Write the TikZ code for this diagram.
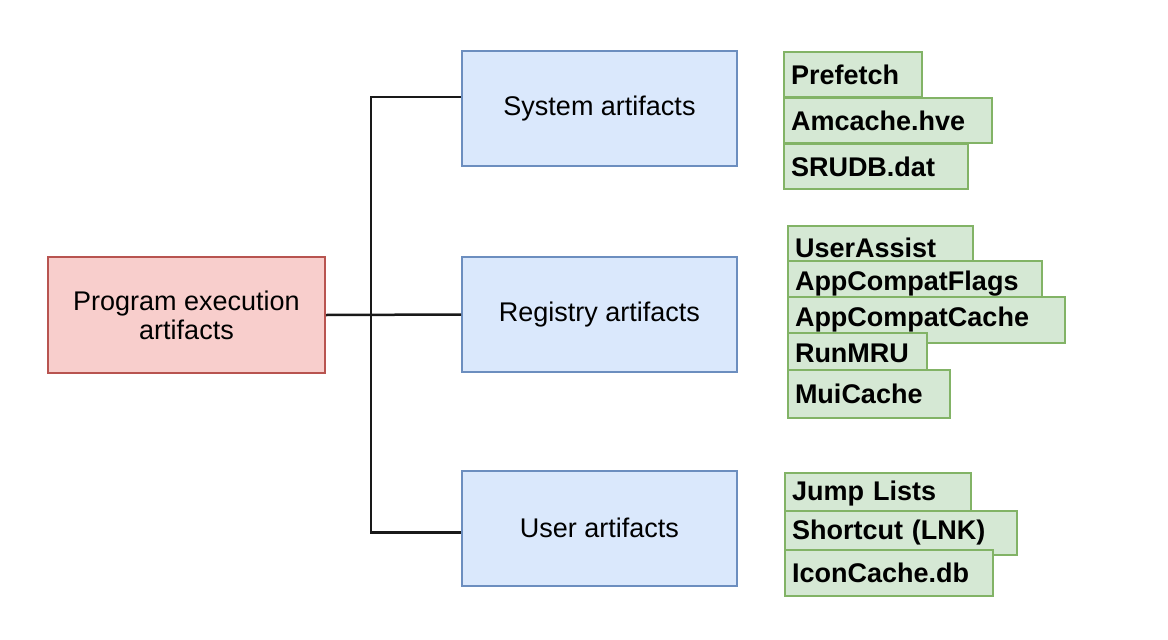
\documentclass[tikz,border=0pt]{standalone}
\usepackage{fontspec}
\setmainfont{Liberation Sans}
\usetikzlibrary{calc}
\definecolor{redfill}{HTML}{F8CECC}
\definecolor{redline}{HTML}{B85450}
\definecolor{bluefill}{HTML}{DAE8FC}
\definecolor{blueline}{HTML}{6C8EBF}
\definecolor{greenfill}{HTML}{D5E8D4}
\definecolor{greenline}{HTML}{82B366}
\begin{document}
\begin{tikzpicture}[x=1pt,y=-1pt,
  mainbox/.style={draw=redline,fill=redfill,line width=2pt,minimum width=277pt,minimum height=116pt,
    align=center,font=\fontsize{27}{32}\selectfont,inner sep=0pt},
  catbox/.style={draw=blueline,fill=bluefill,line width=2pt,minimum width=275pt,minimum height=115pt,
    align=center,font=\fontsize{27}{32}\selectfont,inner sep=0pt},
  gbox/.style={draw=greenline,fill=greenfill,line width=2pt,anchor=north west,inner xsep=7pt,inner ysep=0pt,
    align=left,font=\fontsize{27}{32}\selectfont\bfseries},
  conn/.style={draw=black!90,line width=2.5pt}]
\useasboundingbox (0,0) rectangle (1168,640);
% main boxes
\node[mainbox] (prog) at (186.5,315) {Program execution\\[-3pt]artifacts};
\node[catbox] (sys) at (599.5,108.5) {System artifacts};
\node[catbox] (reg) at (599.5,314.5) {Registry artifacts};
\node[catbox] (usr) at (599.5,528) {User artifacts};
% connectors
\coordinate (bus) at (371,315);
\draw[conn] (prog.east) -- (reg.west);
\draw[conn] ($(sys.north west)!0.4!(sys.south west)$) -| (bus) |- ($(usr.north west)!0.54!(usr.south west)$);
% system items
\node[gbox,text width=124pt,minimum height=45pt] (pf) at (783,51) {Prefetch};
\node[gbox,text width=194pt,minimum height=45pt] (am) at (783,97) {Amcache.hve};
\node[gbox,text width=170pt,minimum height=45pt] (sr) at (783,143) {SRUDB.dat};
% registry items
\node[gbox,text width=171pt,minimum height=44pt] (ua) at (787,225) {UserAssist};
\node[gbox,text width=240pt,minimum height=46pt] (af) at (787,260) {AppCompatFlags};
\node[gbox,text width=263pt,minimum height=46pt] (ac) at (787,296) {AppCompatCache};
\node[gbox,text width=125pt,minimum height=40pt] (rm) at (787,332) {RunMRU};
\node[gbox,text width=148pt,minimum height=48pt] (mc) at (787,369) {MuiCache};
% user items
\node[gbox,text width=172pt,minimum height=42pt] (jl) at (784,472) {Jump Lists};
\node[gbox,text width=218pt,minimum height=44pt] (sc) at (784,510) {Shortcut (LNK)};
\node[gbox,text width=194pt,minimum height=46pt] (ic) at (784,549) {IconCache.db};
\end{tikzpicture}
\end{document}
